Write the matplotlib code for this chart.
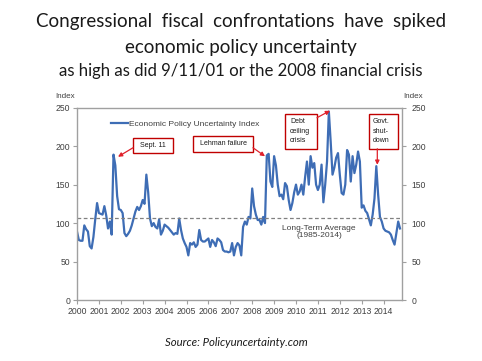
import matplotlib
matplotlib.use("Agg")
import matplotlib.pyplot as plt
from matplotlib.patches import Rectangle
import numpy as np

# monthly index values, Jan 2000 .. Oct 2014
epu_2000 = [89, 78, 77, 77, 97, 92, 89, 70, 67, 82, 105, 126]
epu_2001 = [113, 112, 111, 122, 110, 93, 102, 85, 189, 175, 135, 118]
epu_2002 = [117, 113, 87, 83, 86, 90, 97, 106, 115, 121, 117, 122]
epu_2003 = [130, 125, 163, 140, 106, 96, 100, 95, 93, 105, 85, 90]
epu_2004 = [98, 96, 94, 91, 88, 85, 87, 86, 106, 91, 80, 74]
epu_2005 = [69, 58, 74, 72, 75, 69, 72, 91, 78, 76, 76, 78]
epu_2006 = [80, 69, 78, 75, 70, 80, 78, 75, 65, 63, 63, 62]
epu_2007 = [63, 74, 58, 69, 74, 71, 58, 95, 102, 98, 108, 106]
epu_2008 = [145, 122, 111, 104, 104, 98, 108, 100, 188, 190, 154, 147]
epu_2009 = [187, 175, 150, 135, 137, 131, 152, 148, 130, 117, 126, 140]
epu_2010 = [150, 137, 141, 150, 137, 160, 180, 150, 187, 172, 178, 150]
epu_2011 = [143, 150, 176, 127, 150, 180, 245, 206, 163, 172, 185, 191]
epu_2012 = [163, 139, 137, 150, 195, 189, 154, 187, 165, 176, 193, 180]
epu_2013 = [120, 123, 116, 113, 105, 97, 111, 132, 174, 137, 108, 102]
epu_2014 = [93, 90, 89, 88, 85, 78, 72, 87, 102, 93]

years = list(range(2000, 2015))
long_term_avg = 107

epu = np.array(epu_2000 + epu_2001 + epu_2002 + epu_2003 + epu_2004 + epu_2005
               + epu_2006 + epu_2007 + epu_2008 + epu_2009 + epu_2010 + epu_2011
               + epu_2012 + epu_2013 + epu_2014)
t = 2000 + np.arange(len(epu)) / 12.0

plt.rcParams["font.family"] = ["Liberation Sans", "DejaVu Sans"]

fig = plt.figure(figsize=(4.82, 3.61), dpi=100)
fig.patch.set_facecolor("white")

# titles
tfont = "Lato"
fig.text(0.5, 1 - 22 / 361, "Congressional  fiscal  confrontations  have  spiked",
         ha="center", va="center", fontsize=13.5, family=tfont, color="#1a1a1a")
fig.text(0.5, 1 - 48 / 361, "economic policy uncertainty",
         ha="center", va="center", fontsize=13.5, family=tfont, color="#1a1a1a")
fig.text(0.5, 1 - 71 / 361, "as high as did 9/11/01 or the 2008 financial crisis",
         ha="center", va="center", fontsize=12.1, family=tfont, color="#1a1a1a")

ax = fig.add_axes([77 / 482, 1 - 300 / 361, 325 / 482, 192.3 / 361])
grey = "#A0A0A0"
tcol = "#404040"

ax.plot(t, epu, color="#3E6DB5", lw=1.6, label="Economic Policy Uncertainty Index",
        solid_joinstyle="round")
ax.axhline(long_term_avg, color="#808080", lw=0.9, ls=(0, (3, 2)))

ax.set_xlim(2000, 2014.84)
ax.set_ylim(0, 250)
ax.set_xticks(years)
ax.set_xticklabels([str(y) for y in years])
ax.set_yticks([0, 50, 100, 150, 200, 250])

for s in ax.spines.values():
    s.set_color(grey)
    s.set_linewidth(1.0)
ax.tick_params(axis="both", colors=grey, labelcolor=tcol, labelsize=6.2,
               length=3, width=0.8, direction="out", pad=2)

ax2 = ax.twinx()
ax2.set_ylim(0, 250)
ax2.set_yticks([0, 50, 100, 150, 200, 250])
for s in ax2.spines.values():
    s.set_visible(False)
ax2.tick_params(axis="y", colors=grey, labelcolor=tcol, labelsize=6.2,
                length=3, width=0.8, direction="out", pad=4)

fig.text(55 / 482, 1 - 97 / 361, "Index", fontsize=5.8, color=tcol, va="center")
fig.text(403 / 482, 1 - 97 / 361, "Index", fontsize=5.8, color=tcol, va="center")

leg = ax.legend(loc="upper left", bbox_to_anchor=(0.095, 0.955), frameon=False,
                fontsize=6.0, handlelength=2.0, handletextpad=0.1, borderaxespad=0)
for txt in leg.get_texts():
    txt.set_color(tcol)

ax.text(2011.05, 88, "Long-Term Average\n(1985-2014)", ha="center", va="center",
        fontsize=6.0, color=tcol, linespacing=1.05)


# helpers: reference pixel -> data
def px(x):
    return 2000 + (x - 77) / 21.9


def py(y):
    return (300 - y) / 0.768


box_ec = "#C00000"
red = "#E0202A"
afont = dict(fontsize=5.0, color="#1a1a1a")


def box(x0, x1, y0, y1):
    ax.add_patch(Rectangle((px(x0), py(y1)), px(x1) - px(x0), py(y0) - py(y1),
                           fc="white", ec=box_ec, lw=1.0, zorder=4))


def arrow(x0, y0, x1, y1):
    ax.annotate("", xy=(px(x1), py(y1)), xytext=(px(x0), py(y0)),
                arrowprops=dict(arrowstyle="-|>", color=red, lw=0.9,
                                mutation_scale=6, shrinkA=0, shrinkB=0),
                zorder=5)


box(133, 173, 138, 153)
ax.text(px(153), py(145.5), "Sept. 11", ha="center", va="center", zorder=5, **afont)
arrow(133, 148, 118, 157)

box(193, 253, 136, 152)
ax.text(px(223), py(144), "Lehman failure", ha="center", va="center", zorder=5, **afont)
arrow(253, 148, 265, 156.5)

box(285, 317, 114, 149)
ax.text(px(290), py(131.5), "Debt\nceiling\ncrisis", ha="left", va="center",
        linespacing=1.45, zorder=5, **afont)
arrow(317, 118, 330, 111)

box(369, 398, 114, 149)
ax.text(px(373), py(131.5), "Govt.\nshut-\ndown", ha="left", va="center",
        linespacing=1.45, zorder=5, **afont)
arrow(377.3, 149, 377.3, 165)

fig.text(0.49, 1 - 343 / 361, "Source: Policyuncertainty.com", ha="center",
         va="center", fontsize=8.2, style="italic", family=tfont, color="#1a1a1a")

fig.savefig("out.png", dpi=100)
